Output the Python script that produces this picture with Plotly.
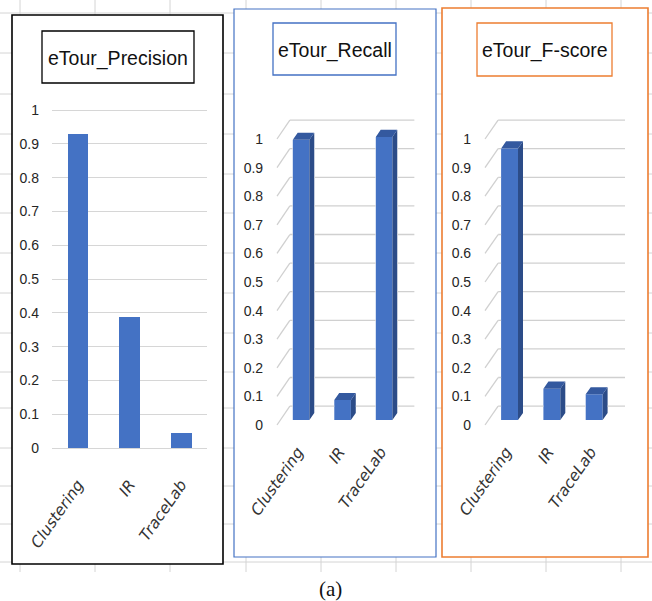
import plotly.graph_objects as go

# ---- data -------------------------------------------------------------
categories = ["Clustering", "IR", "TraceLab"]
precision = [0.93, 0.39, 0.045]
recall = [0.98, 0.07, 0.99]
fscore = [0.95, 0.11, 0.09]

y_tick_vals = [0, 0.1, 0.2, 0.3, 0.4, 0.5, 0.6, 0.7, 0.8, 0.9, 1]
y_tick_text = ["0", "0.1", "0.2", "0.3", "0.4", "0.5", "0.6", "0.7", "0.8", "0.9", "1"]
panel_titles = ["eTour_Precision", "eTour_Recall", "eTour_F-score"]
caption = "(a)"

# ---- page geometry / styles ------------------------------------------
W, H = 652, 601
BLUE = "#4472C4"
SIDE = "#2C4C88"
TOP = "#34599F"
GRID = "#d6d6d6"
GRID3D = "#d0d0d0"
SHEET = "#d4d4d4"
SANS = "Liberation Sans, Arial, sans-serif"
LABEL_FONT = dict(family=SANS, size=14, color="#262626")
XLAB_FONT = dict(family="DejaVu Sans", size=15.5, color="#333333", style="italic")


def fx(px):
    return px / W


def fy(py):
    return 1 - py / H


def x_domain(left_px, unit_px, lo, hi, origin=-0.5):
    return [fx(left_px + (lo - origin) * unit_px), fx(left_px + (hi - origin) * unit_px)]


def y_domain(zero_px, unit_px, lo, hi):
    return [fy(zero_px - lo * unit_px), fy(zero_px - hi * unit_px)]


fig = go.Figure()
shapes = []
annotations = []

# spreadsheet cell grid behind the charts
rows = [13, 53, 94, 134, 174, 213, 253, 293, 333, 372, 408, 448, 486, 524, 562]
cols = [20, 95, 170, 246, 321, 396, 471, 546, 621]
for r in rows:
    shapes.append(dict(type="line", xref="paper", yref="paper", x0=0, x1=1,
                       y0=fy(r), y1=fy(r), line=dict(color=SHEET, width=1), layer="below"))
for c in cols:
    shapes.append(dict(type="line", xref="paper", yref="paper", x0=fx(c), x1=fx(c),
                       y0=fy(0), y1=fy(572), line=dict(color=SHEET, width=1), layer="below"))

# chart frames and title boxes
frames = [((12, 15, 223, 564), "#000000", 1.6),
          ((234, 9, 436, 557), BLUE, 1.2),
          ((442, 8, 648, 557), "#ED7D31", 1.6)]
title_boxes = [((42, 31, 194, 83), "#000000"),
               ((273, 23, 396, 75), BLUE),
               ((477, 23, 612, 76), "#ED7D31")]
for (x0, y0, x1, y1), col, lw in frames:
    shapes.append(dict(type="rect", xref="paper", yref="paper", x0=fx(x0), x1=fx(x1),
                       y0=fy(y1), y1=fy(y0), fillcolor="white",
                       line=dict(color=col, width=lw), layer="below"))
for ((x0, y0, x1, y1), col), title in zip(title_boxes, panel_titles):
    shapes.append(dict(type="rect", xref="paper", yref="paper", x0=fx(x0), x1=fx(x1),
                       y0=fy(y1), y1=fy(y0), fillcolor="white",
                       line=dict(color=col, width=1.3), layer="below"))
    annotations.append(dict(text=title, xref="paper", yref="paper",
                            x=fx((x0 + x1) / 2), y=fy((y0 + y1) / 2 + 1),
                            xanchor="center", yanchor="middle", showarrow=False,
                            font=dict(family=SANS, size=19.5, color="#111111")))

idx = list(range(len(categories)))

# ---- panel 1 : flat column chart ---------------------------------------
fig.add_trace(go.Bar(x=idx, y=precision, width=0.4, marker=dict(color=BLUE, line=dict(width=0)),
                     xaxis="x", yaxis="y", showlegend=False, hoverinfo="skip"))

axis_common = dict(automargin=False, showline=False, zeroline=False, ticks="")
layout_axes = {}
layout_axes["xaxis"] = dict(axis_common, domain=x_domain(52, 155 / 3, -0.5, 2.5), range=[-0.5, 2.5],
                            anchor="y", tickvals=idx, ticktext=categories, tickangle=-55,
                            tickfont=XLAB_FONT, showgrid=False, ticklabelstandoff=20)
layout_axes["yaxis"] = dict(axis_common, domain=y_domain(448, 338, -0.01, 1.01), range=[-0.01, 1.01],
                            anchor="x", tickvals=y_tick_vals, ticktext=y_tick_text,
                            tickfont=LABEL_FONT, showgrid=True, gridcolor=GRID, gridwidth=1.3,
                            ticklabelstandoff=12)

# ---- panels 2 & 3 : 3-D style column charts ----------------------------
DX = 0.31     # back-wall shift along the category axis (category units)
DY = 0.066    # back-wall shift along the value axis (value units)
D0, D1 = 0.26, 0.64  # depth span occupied by the columns
BW = 0.40     # column width


def polygons(rings):
    xs, ys = [], []
    for ring in rings:
        xs += [p[0] for p in ring] + [ring[0][0], None]
        ys += [p[1] for p in ring] + [ring[0][1], None]
    return xs, ys


def panel_3d(values, n, left_px, unit_px):
    xa, ya = f"x{n}", f"y{n}"
    ddx, ddy = (D1 - D0) * DX, (D1 - D0) * DY
    # column extents along x (front-left edge to back-right edge) and their back-top height
    spans = [(k - BW / 2 + D0 * DX, k + BW / 2 + D0 * DX + ddx, v + D1 * DY)
             for k, v in zip(idx, values)]

    # perspective gridlines: floor diagonal, then the back-wall line broken where a column
    # stands in front of it
    grid_line = dict(color=GRID3D, width=1.3)
    for t in y_tick_vals:
        h = t + DY
        shapes.append(dict(type="line", xref=xa, yref=ya, x0=-0.5, y0=t, x1=-0.5 + DX, y1=h,
                           line=grid_line, layer="above"))
        start = -0.5 + DX
        for left, right, top in spans:
            if h < top:
                shapes.append(dict(type="line", xref=xa, yref=ya, x0=start, y0=h, x1=left, y1=h,
                                   line=grid_line, layer="above"))
                start = right
        shapes.append(dict(type="line", xref=xa, yref=ya, x0=start, y0=h, x1=2.5 + DX, y1=h,
                           line=grid_line, layer="above"))

    fronts, sides, tops = [], [], []
    for k, v in zip(idx, values):
        xl, xr = k - BW / 2 + D0 * DX, k + BW / 2 + D0 * DX
        yb, yt = D0 * DY, v + D0 * DY
        fronts.append([(xl, yb), (xr, yb), (xr, yt), (xl, yt)])
        sides.append([(xr, yb), (xr + ddx, yb + ddy), (xr + ddx, yt + ddy), (xr, yt)])
        tops.append([(xl, yt), (xr, yt), (xr + ddx, yt + ddy), (xl + ddx, yt + ddy)])
    for rings, col in ((fronts, BLUE), (sides, SIDE), (tops, TOP)):
        px_, py_ = polygons(rings)
        fig.add_trace(go.Scatter(x=px_, y=py_, mode="lines", fill="toself", fillcolor=col,
                                 line=dict(width=0, color=col), xaxis=xa, yaxis=ya,
                                 showlegend=False, hoverinfo="skip"))
    xlo, xhi = -0.52, 2.5 + DX + 0.02
    ylo, yhi = -0.01, 1.09
    layout_axes[f"xaxis{n}"] = dict(axis_common, domain=x_domain(left_px, unit_px, xlo, xhi),
                                    range=[xlo, xhi], anchor=ya, tickvals=idx, ticktext=categories,
                                    tickangle=-55, tickfont=XLAB_FONT, showgrid=False,
                                    ticklabelstandoff=11)
    layout_axes[f"yaxis{n}"] = dict(axis_common, domain=y_domain(425, 286, ylo, yhi),
                                    range=[ylo, yhi], anchor=xa, tickvals=y_tick_vals,
                                    ticktext=y_tick_text, tickfont=LABEL_FONT, showgrid=False,
                                    ticklabelstandoff=12)


panel_3d(recall, 2, 277, 41.5)
panel_3d(fscore, 3, 485, 42.3)

annotations.append(dict(text=caption, xref="paper", yref="paper", x=fx(331), y=fy(589),
                        xanchor="center", yanchor="middle", showarrow=False,
                        font=dict(family="Liberation Serif, Times New Roman, serif",
                                  size=21, color="#111111")))

fig.update_layout(
    width=W, height=H,
    margin=dict(l=0, r=0, t=0, b=0),
    paper_bgcolor="white",
    plot_bgcolor="rgba(0,0,0,0)",
    shapes=shapes,
    annotations=annotations,
    bargap=0,
    **layout_axes,
)

fig.write_html("out.html")
